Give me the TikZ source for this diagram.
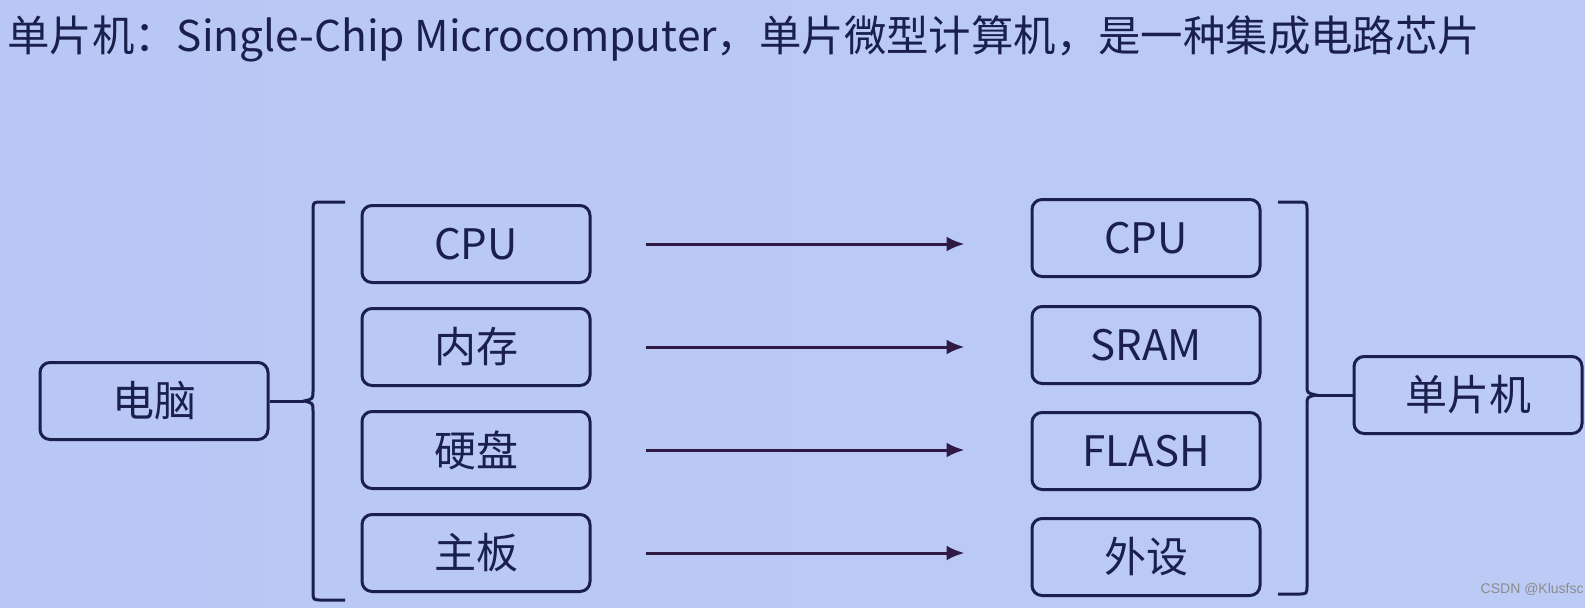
\documentclass[tikz,border=0pt]{standalone}
\usepackage{fontspec}
\setmainfont{Noto Sans CJK SC}
\newfontfamily\markfont{Liberation Sans}
\usetikzlibrary{arrows.meta}

\definecolor{ink}{HTML}{1B1F4C}
\definecolor{arrowink}{HTML}{2E1A45}
\definecolor{bgleft}{HTML}{B8C7F5}
\definecolor{bgmid}{HTML}{C9D8FC}
\definecolor{bgright}{HTML}{BCCAF6}

\begin{document}
\begin{tikzpicture}[x=0.5pt,y=-0.5pt,
    part/.style={draw=ink,line width=1.5pt,rounded corners=5pt,text=ink,
      minimum width=114pt,minimum height=38.5pt,inner sep=0pt,font=\fontsize{21}{21}\selectfont},
    brace/.style={draw=ink,line width=1.5pt},
    arr/.style={draw=arrowink,line width=1.5pt,-{Latex[length=9pt,width=7.5pt]},
      shorten <=27pt,shorten >=33pt}]

\useasboundingbox (0,0) rectangle (1585,607);
\shade [left color=bgleft,middle color=bgmid,right color=bgright] (0,0) rectangle (1585,607);

\node[anchor=base west,inner sep=0pt,text=ink,font=\fontsize{21.2}{21.2}\selectfont] (title) at (7,51)
  {单片机：Single-Chip Microcomputer，单片微型计算机，是一种集成电路芯片};

% left side
\node[part] (pc) at (154,401) {电脑};
\node[part] (cpuL) at (476,244) {CPU};
\node[part] (ramL) at (476,347) {内存};
\node[part] (diskL) at (476,450) {硬盘};
\node[part] (boardL) at (476,553) {主板};

% right side
\node[part] (cpuR) at (1146,238) {CPU};
\node[part] (ramR) at (1146,345) {SRAM};
\node[part] (flashR) at (1146,451) {FLASH};
\node[part] (ioR) at (1146,557) {外设};
\node[part] (mcu) at (1468,395) {单片机};

% braces
\coordinate (ltip) at (304,401);
\draw [brace] (345,202) -- (322,202) .. controls (313,202) .. (313,211) -- (313,391)
  .. controls (313,399) .. (ltip) .. controls (313,403) .. (313,411) -- (313,591)
  .. controls (313,600) .. (322,600) -- (345,600);
\draw [brace] (pc) -- (ltip);

\coordinate (rtip) at (1316,395);
\draw [brace] (1278,202) -- (1298,202) .. controls (1307,202) .. (1307,211) -- (1307,385)
  .. controls (1307,393) .. (rtip) .. controls (1307,397) .. (1307,405) -- (1307,585)
  .. controls (1307,594) .. (1298,594) -- (1278,594);
\draw [brace] (rtip) -- (mcu);

% arrows
\draw [arr] (cpuL.east) -- (cpuL.east -| cpuR.west);
\draw [arr] (ramL.east) -- (ramL.east -| ramR.west);
\draw [arr] (diskL.east) -- (diskL.east -| flashR.west);
\draw [arr] (boardL.east) -- (boardL.east -| ioR.west);

\node[anchor=east,inner sep=0pt,text=black!45,font=\markfont\fontsize{7}{7}\selectfont] (mark) at (1584,589) {CSDN @Klusfsc};

\end{tikzpicture}
\end{document}
